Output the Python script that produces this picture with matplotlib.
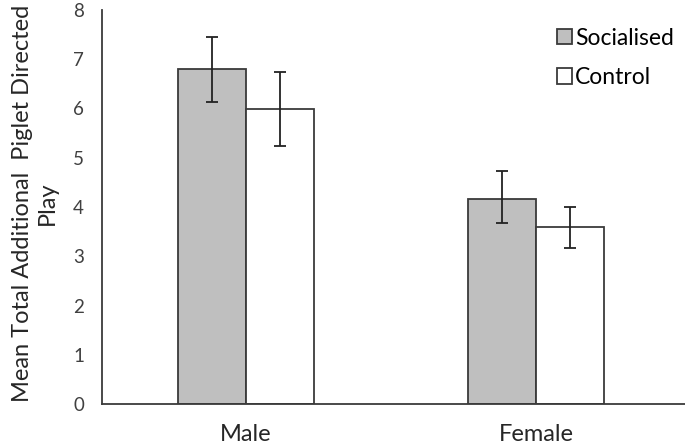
import numpy as np
import matplotlib.pyplot as plt

# values
groups = ["Male", "Female"]
series = ["Socialised", "Control"]
socialised = [6.80, 4.16]
socialised_lo = [6.13, 3.67]
socialised_hi = [7.45, 4.73]
control = [5.99, 3.59]
control_lo = [5.24, 3.17]
control_hi = [6.74, 4.00]

plt.rcParams['font.family'] = ['Lato', 'DejaVu Sans']

fig = plt.figure(figsize=(6.85, 4.47), dpi=100)
ax = fig.add_axes([0.149, 0.096, 0.851, 0.882])

x = np.arange(len(groups))
w = 0.234
edge = '#3a3a3a'

soc_err = [np.subtract(socialised, socialised_lo), np.subtract(socialised_hi, socialised)]
con_err = [np.subtract(control, control_lo), np.subtract(control_hi, control)]

ax.bar(x - w / 2, socialised, w, color='#bfbfbf', edgecolor=edge, linewidth=1.3,
       label=series[0], zorder=2)
ax.bar(x + w / 2, control, w, color='white', edgecolor=edge, linewidth=1.3,
       label=series[1], zorder=2)
ax.errorbar(x - w / 2, socialised, yerr=soc_err, fmt='none', ecolor='#222222',
            elinewidth=1.3, capsize=4.5, capthick=1.3, zorder=3)
ax.errorbar(x + w / 2, control, yerr=con_err, fmt='none', ecolor='#222222',
            elinewidth=1.3, capsize=4.5, capthick=1.3, zorder=3)

ax.set_xlim(-0.497, 1.514)
ax.set_ylim(0, 8)
ax.set_yticks(range(0, 9))
ax.set_xticks(x)
ax.set_xticklabels(groups, fontsize=17, color='#262626')
ax.tick_params(axis='y', length=0, pad=13, labelsize=13.5, labelcolor='#404040')
ax.tick_params(axis='x', length=0, pad=14.5)

for s in ['top', 'right']:
    ax.spines[s].set_visible(False)
for s in ['left', 'bottom']:
    ax.spines[s].set_color('#3a3a3a')
    ax.spines[s].set_linewidth(1.3)

ax.set_ylabel("Mean Total Additional  Piglet Directed\nPlay", fontsize=17,
              color='#262626', linespacing=1.25)
ax.yaxis.set_label_coords(-0.076, 0.51)

leg = ax.legend(loc='upper left', bbox_to_anchor=(0.78, 0.955), frameon=False,
                fontsize=16.5, handlelength=0.65, handleheight=0.65,
                handletextpad=0.15, labelspacing=0.8, borderaxespad=0,
                borderpad=0)

fig.savefig('out.png', dpi=100)
